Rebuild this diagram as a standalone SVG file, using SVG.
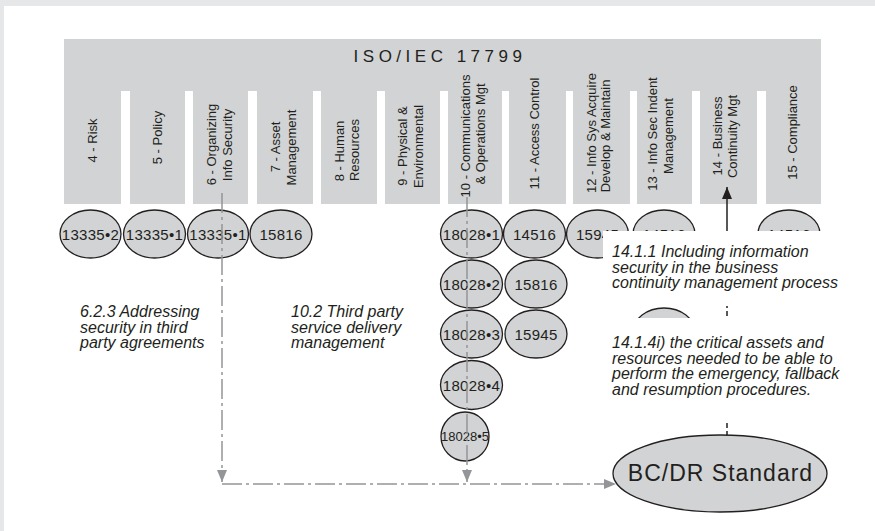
<svg xmlns="http://www.w3.org/2000/svg" width="875" height="531" viewBox="0 0 875 531">
<style>
.bg{fill:#ffffff}
.band{fill:#e6e7e8}
.hdr{fill:#d1d3d4}
.gap{fill:#ffffff}
.col{font-family:"Liberation Sans",Arial,sans-serif;font-size:13px;fill:#231f20;text-anchor:middle}
.title{font-family:"Liberation Sans",Arial,sans-serif;font-size:17px;fill:#231f20;text-anchor:middle;letter-spacing:4.5px}
.ell{fill:#d1d3d4;stroke:#231f20;stroke-width:1.3}
.et{font-family:"Liberation Sans",Arial,sans-serif;font-size:15px;fill:#231f20;text-anchor:middle;letter-spacing:0.3px}
.et2{font-family:"Liberation Sans",Arial,sans-serif;font-size:13px;fill:#231f20;text-anchor:middle}
.note{font-family:"Liberation Sans",Arial,sans-serif;font-style:italic;font-size:16px;fill:#231f20}
.gline{fill:none;stroke:#939598;stroke-width:1.5;stroke-dasharray:20 4 3 4}
.bline{fill:none;stroke:#231f20;stroke-width:1.5;stroke-dasharray:5 3}
.bsolid{fill:none;stroke:#231f20;stroke-width:1.5}
.box{fill:#ffffff}
.big{font-family:"Liberation Sans",Arial,sans-serif;font-size:23px;fill:#231f20;text-anchor:middle;letter-spacing:1px}
</style>
<defs>
<marker id="ga" viewBox="0 0 12 10" markerWidth="12" markerHeight="10" refX="12" refY="5" orient="auto" markerUnits="userSpaceOnUse">
<path d="M0,0 L12,5 L0,10 z" fill="#939598"/>
</marker>
<marker id="ba" viewBox="0 0 12 10" markerWidth="12" markerHeight="10" refX="12" refY="5" orient="auto" markerUnits="userSpaceOnUse">
<path d="M0,0 L12,5 L0,10 z" fill="#231f20"/>
</marker>
</defs>
<rect class="bg" x="0" y="0" width="875" height="531"/>
<rect class="band" x="0" y="0" width="875" height="6"/>
<rect class="band" x="0" y="0" width="4" height="531"/>

<g id="iso17799">
<rect class="hdr" x="64" y="39" width="757" height="165"/>
<rect class="gap" x="121" y="91" width="9" height="114"/>
<rect class="gap" x="185" y="91" width="8" height="114"/>
<rect class="gap" x="248" y="91" width="9" height="114"/>
<rect class="gap" x="313" y="91" width="8" height="114"/>
<rect class="gap" x="377" y="91" width="8" height="114"/>
<rect class="gap" x="440" y="91" width="8" height="114"/>
<rect class="gap" x="502" y="91" width="7" height="114"/>
<rect class="gap" x="566" y="91" width="7" height="114"/>
<rect class="gap" x="630" y="91" width="7" height="114"/>
<rect class="gap" x="692" y="91" width="8" height="114"/>
<rect class="gap" x="757" y="91" width="9" height="114"/>
<text class="title" x="440" y="62">ISO/IEC 17799</text>
</g>

<g id="col4"><text class="col" transform="translate(97,140.5) rotate(-90)">4 - Risk</text></g>
<g id="col5"><text class="col" transform="translate(162,137.5) rotate(-90)">5 - Policy</text></g>
<g id="col6">
<text class="col" transform="translate(216,144.5) rotate(-90)">6 - Organizing</text>
<text class="col" transform="translate(232,145) rotate(-90)">Info Security</text>
</g>
<g id="col7">
<text class="col" transform="translate(280,147) rotate(-90)">7 - Asset</text>
<text class="col" transform="translate(295.5,147.5) rotate(-90)">Management</text>
</g>
<g id="col8">
<text class="col" transform="translate(343.5,151) rotate(-90)">8 - Human</text>
<text class="col" transform="translate(359,150) rotate(-90)">Resources</text>
</g>
<g id="col9">
<text class="col" transform="translate(407,146) rotate(-90)">9 - Physical &amp;</text>
<text class="col" transform="translate(423,146.5) rotate(-90)">Environmental</text>
</g>
<g id="col10">
<text class="col" transform="translate(469.5,136) rotate(-90)">10 - Communications</text>
<text class="col" transform="translate(485,134) rotate(-90)">&amp; Operations Mgt</text>
</g>
<g id="col11"><text class="col" transform="translate(539,133.5) rotate(-90)">11 - Access Control</text></g>
<g id="col12">
<text class="col" transform="translate(596,133) rotate(-90)">12 - Info Sys Acquire</text>
<text class="col" transform="translate(610,136) rotate(-90)">Develop &amp; Maintain</text>
</g>
<g id="col13">
<text class="col" transform="translate(657,134) rotate(-90)">13 - Info Sec Indent</text>
<text class="col" transform="translate(672.5,136) rotate(-90)">Management</text>
</g>
<g id="col14">
<text class="col" transform="translate(721.5,136) rotate(-90)">14 - Business</text>
<text class="col" transform="translate(737,136.5) rotate(-90)">Continuity Mgt</text>
</g>
<g id="col15"><text class="col" transform="translate(796.5,132.5) rotate(-90)">15 - Compliance</text></g>

<g id="e13335-2"><ellipse class="ell" cx="90.5" cy="234" rx="30.5" ry="24"/><text class="et" x="90.5" y="239.5">13335•2</text></g>
<g id="e13335-1a"><ellipse class="ell" cx="154.5" cy="234" rx="31" ry="24"/><text class="et" x="154.5" y="239.5">13335•1</text></g>
<g id="e13335-1b"><ellipse class="ell" cx="218" cy="234" rx="30.5" ry="24"/><text class="et" x="218" y="239.5">13335•1</text></g>
<g id="e15816a"><ellipse class="ell" cx="281" cy="234" rx="31" ry="24"/><text class="et" x="281" y="239.5">15816</text></g>
<g id="e18028-1"><ellipse class="ell" cx="471.5" cy="234" rx="31" ry="24"/><text class="et" x="471.5" y="239.5">18028•1</text></g>
<g id="e18028-2"><ellipse class="ell" cx="471.5" cy="284" rx="31" ry="24"/><text class="et" x="471.5" y="289.5">18028•2</text></g>
<g id="e18028-3"><ellipse class="ell" cx="471.5" cy="334" rx="31" ry="24"/><text class="et" x="471.5" y="339.5">18028•3</text></g>
<g id="e18028-4"><ellipse class="ell" cx="471.5" cy="385" rx="31" ry="24.5"/><text class="et" x="471.5" y="390.5">18028•4</text></g>
<g id="e18028-5"><ellipse class="ell" cx="465" cy="436.5" rx="24" ry="24.5"/><text class="et2" x="465" y="441">18028•5</text></g>
<g id="e14516a"><ellipse class="ell" cx="534.5" cy="234" rx="31" ry="24"/><text class="et" x="534.5" y="239.5">14516</text></g>
<g id="e15816b"><ellipse class="ell" cx="536" cy="284" rx="31" ry="24"/><text class="et" x="536" y="289.5">15816</text></g>
<g id="e15945a"><ellipse class="ell" cx="536" cy="334" rx="31" ry="24"/><text class="et" x="536" y="339.5">15945</text></g>
<g id="e15945b"><ellipse class="ell" cx="597.5" cy="234" rx="31" ry="24"/><text class="et" x="597.5" y="239.5">15945</text></g>
<g id="e14516b"><ellipse class="ell" cx="664" cy="234" rx="31" ry="24"/><text class="et" x="664" y="239.5">14516</text></g>
<g id="e14516c"><ellipse class="ell" cx="789" cy="234" rx="31" ry="24"/><text class="et" x="789" y="239.5">14516</text></g>
<g id="e13b"><ellipse class="ell" cx="664" cy="332" rx="31" ry="24"/></g>

<g id="connectors">
<path class="gline" d="M222,193 V482" marker-end="url(#ga)"/>
<path class="gline" d="M467,197 V482" marker-end="url(#ga)"/>
<path class="gline" d="M222,484 H616" marker-end="url(#ga)"/>
<path class="bline" d="M727,436 V231"/>
<path class="bsolid" d="M727,231 V187" marker-end="url(#ba)"/>
</g>

<g id="note623">
<text class="note" x="80" y="317">6.2.3 Addressing</text>
<text class="note" x="80" y="332.5">security in third</text>
<text class="note" x="80" y="348">party agreements</text>
</g>
<g id="note102">
<text class="note" x="291" y="317">10.2 Third party</text>
<text class="note" x="291" y="332.5">service delivery</text>
<text class="note" x="291" y="348">management</text>
</g>
<g id="note1411">
<rect class="box" x="603" y="231" width="235" height="75"/>
<text class="note" x="612" y="257">14.1.1 Including information</text>
<text class="note" x="612" y="272.5">security in the business</text>
<text class="note" x="612" y="288">continuity management process</text>
</g>
<g id="note1414">
<rect class="box" x="603" y="318" width="235" height="103"/>
<text class="note" x="612" y="348">14.1.4i) the critical assets and</text>
<text class="note" x="612" y="363.5">resources needed to be able to</text>
<text class="note" x="612" y="379">perform the emergency, fallback</text>
<text class="note" x="612" y="394.5">and resumption procedures.</text>
</g>

<g id="bcdr">
<ellipse class="ell" cx="720" cy="473.5" rx="107" ry="38.5"/>
<text class="big" x="720.5" y="481">BC/DR Standard</text>
</g>
</svg>
